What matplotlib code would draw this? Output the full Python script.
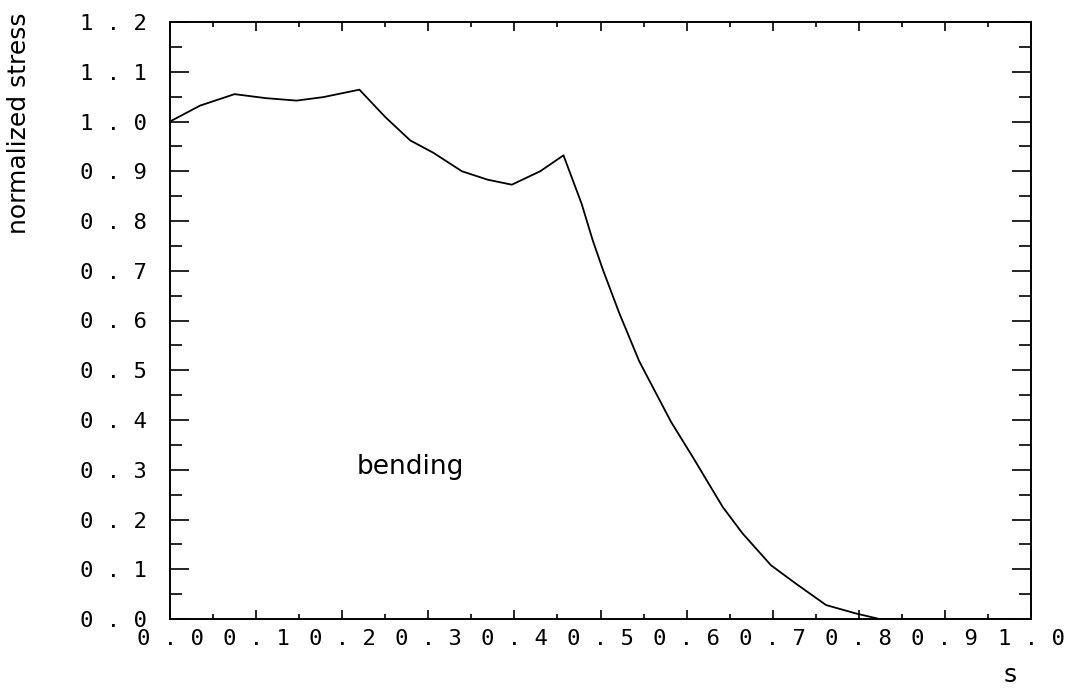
import matplotlib
matplotlib.use('Agg')
import matplotlib.pyplot as plt
import numpy as np

# curve
s_vals = [0.0, 0.035, 0.075, 0.111, 0.147, 0.178, 0.220, 0.250, 0.279, 0.306,
          0.339, 0.369, 0.397, 0.430, 0.457, 0.478, 0.491, 0.503, 0.522, 0.545,
          0.582, 0.607, 0.642, 0.665, 0.698, 0.727, 0.762, 0.797, 0.824, 1.0]
stress_vals = [1.000, 1.032, 1.055, 1.047, 1.042, 1.049, 1.064, 1.009, 0.962, 0.937,
               0.900, 0.883, 0.873, 0.900, 0.932, 0.835, 0.761, 0.701, 0.614, 0.518,
               0.396, 0.326, 0.225, 0.172, 0.108, 0.071, 0.028, 0.011, 0.0, 0.0]

x_ticks = [round(0.1 * i, 1) for i in range(11)]
y_ticks = [round(0.1 * i, 1) for i in range(13)]


def spaced(v):
    # plotter style labels: "0 . 5"
    return ' '.join('{:.1f}'.format(v))


fig = plt.figure(figsize=(10.76, 6.92), dpi=100)
ax = fig.add_axes([170 / 1076, 73 / 692, 861 / 1076, 597 / 692])

ax.plot(s_vals, stress_vals, color='black', lw=1.3)

ax.set_xlim(0, 1.0)
ax.set_ylim(0, 1.2)
ax.set_xticks(x_ticks)
ax.set_yticks(y_ticks)
ax.set_xticks(np.arange(0.05, 1.0, 0.1), minor=True)
ax.set_yticks(np.arange(0.05, 1.2, 0.1), minor=True)
ax.set_xticklabels([spaced(v) for v in x_ticks])
ax.set_yticklabels([spaced(v) for v in y_ticks])

for lab in ax.get_xticklabels() + ax.get_yticklabels():
    lab.set_fontfamily('DejaVu Sans Mono')
    lab.set_fontsize(16)

ax.tick_params(axis='x', which='major', direction='in', top=True, bottom=True,
               length=6.5, width=1.2, pad=7)
ax.tick_params(axis='x', which='minor', direction='in', top=True, bottom=True,
               length=3.6, width=1.2)
ax.tick_params(axis='y', which='major', direction='in', left=True, right=True,
               length=14, width=1.2, pad=17)
ax.tick_params(axis='y', which='minor', direction='in', left=True, right=True,
               length=8.5, width=1.2)

for sp in ax.spines.values():
    sp.set_linewidth(1.4)

ax.text(0.279, 0.305, 'bending', fontsize=19, ha='center', va='center')

fig.text(19 / 1076, 1 - 123 / 692, 'normalized stress', rotation=90,
         fontsize=18, ha='center', va='center')
fig.text(1010 / 1076, 1 - 675 / 692, 's', fontsize=18, ha='center', va='center')

fig.savefig('out.png', dpi=100)
